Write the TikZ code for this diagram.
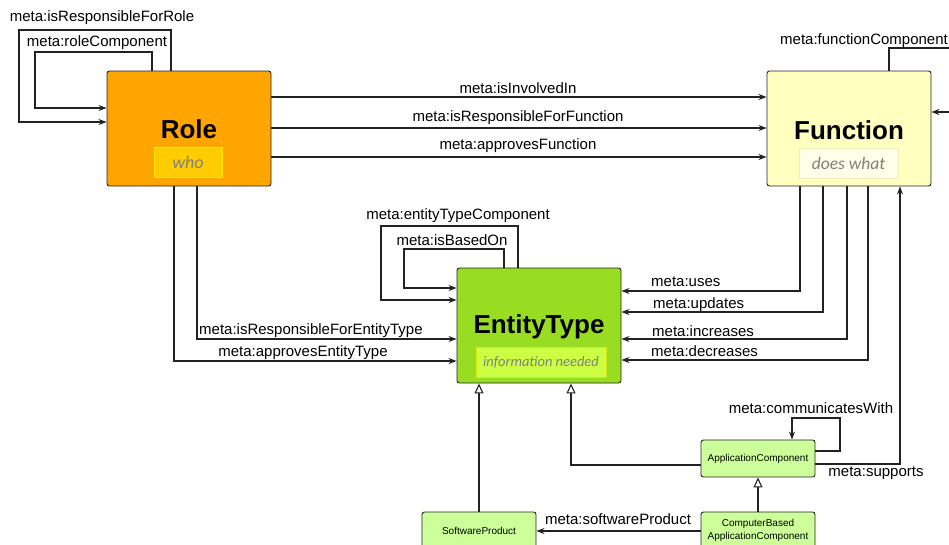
\documentclass[tikz,border=0pt]{standalone}
\usepackage{fontspec}
\setmainfont{Liberation Sans}
\newfontfamily\notefont{Carlito}
\usetikzlibrary{arrows.meta}

\definecolor{roleorange}{HTML}{FFA500}
\definecolor{rolegold}{HTML}{FFCC00}
\definecolor{funcyellow}{HTML}{FFFFC0}
\definecolor{funclight}{HTML}{FFFFE8}
\definecolor{etgreen}{HTML}{99DD22}
\definecolor{etlight}{HTML}{CCFF44}
\definecolor{appgreen}{HTML}{CCFF99}
\definecolor{linegray}{HTML}{222222}

\begin{document}
\begin{tikzpicture}[x=1pt, y=-1pt,
    bigbox/.style={draw=linegray, line width=0.9pt, rounded corners=2.5pt, minimum width=164pt, minimum height=115pt, inner sep=0pt},
    smallbox/.style={draw=linegray, line width=0.9pt, rounded corners=2.5pt, fill=appgreen, minimum width=114pt, minimum height=37pt, inner sep=0pt, align=center, font=\fontsize{10}{12.5}\selectfont},
    notebox/.style={draw, line width=0.8pt, minimum height=30pt, inner sep=0pt, text=gray},
    title/.style={font=\fontsize{26}{30}\selectfont\bfseries},
    lbl/.style={font=\fontsize{15}{18}\selectfont, inner sep=0pt},
    conn/.style={draw=linegray, line width=1.1pt, -{Stealth[length=8pt,width=6pt]}},
    isa/.style={draw=linegray, line width=1.1pt, -{Triangle[open,length=10pt,width=9pt,fill=white]}}]

    \clip (0,0) rectangle (949,544);

    % --- MAIN CLASSES ---
    \node[bigbox, fill=roleorange] (role) at (189,128.5) {};
    \node[title] (roletitle) at (189,129) {Role};
    \node[notebox, fill=rolegold, draw=yellow!90!orange, minimum width=68pt, font=\notefont\itshape\fontsize{18}{20}\selectfont] (who) at (188,162) {who};

    \node[bigbox, fill=funcyellow] (function) at (849,128.5) {};
    \node[title] (functitle) at (849,130) {Function};
    \node[notebox, fill=funclight, draw=yellow!25!white!85!gray, minimum width=99pt, font=\notefont\itshape\fontsize{17.5}{20}\selectfont] (doeswhat) at (848.5,163) {does what};

    \node[bigbox, fill=etgreen] (et) at (539,325.5) {};
    \node[title] (ettitle) at (539,327) {EntityType};
    \node[notebox, fill=etlight, draw=yellow!85!green, minimum width=130pt, font=\notefont\itshape\fontsize{14.5}{17}\selectfont] (infoneeded) at (541,362) {information needed};

    % --- APPLICATION CLASSES ---
    \node[smallbox] (app) at (758,458.5) {ApplicationComponent};
    \node[smallbox] (sp) at (479,530.5) {SoftwareProduct};
    \node[smallbox] (cbac) at (758,530.5) {ComputerBased\\ApplicationComponent};

    % --- SELF LOOPS ---
    \draw[conn] (role.north -| 171,0) |- (19,30) |- (role.west |- 0,122);
    \node[lbl] (lresprole) at (102,18) {meta:isResponsibleForRole};
    \draw[conn] (role.north -| 152,0) |- (35,52) |- (role.west |- 0,108);
    \node[lbl] (lrolecomp) at (97,43) {meta:roleComponent};

    \draw[conn] (et.north -| 518,0) |- (381,226) |- (et.west |- 0,300);
    \node[lbl] (letcomp) at (458,216) {meta:entityTypeComponent};
    \draw[conn] (et.north -| 504,0) |- (404,249) |- (et.west |- 0,288);
    \node[lbl] (lbased) at (452,240) {meta:isBasedOn};

    \draw[conn] (function.north -| 889,0) |- (965,48) |- (function.east |- 0,112);
    \node[lbl, anchor=west] (lfunccomp) at (780,41) {meta:functionComponent};

    \draw[conn] (app.east |- 0,451) -| (840,418) -| (app.north -| 792,0);
    \node[lbl] (lcomm) at (811,408) {meta:communicatesWith};

    % --- ROLE -> FUNCTION ---
    \draw[conn] (role.east |- 0,97) -- (function.west |- 0,97);
    \node[lbl] (linvolved) at (518,88) {meta:isInvolvedIn};
    \draw[conn] (role.east |- 0,128) -- (function.west |- 0,128);
    \node[lbl] (lrespfunc) at (518,118) {meta:isResponsibleForFunction};
    \draw[conn] (role.east |- 0,157) -- (function.west |- 0,157);
    \node[lbl] (lapprfunc) at (518,146) {meta:approvesFunction};

    % --- ROLE -> ENTITYTYPE ---
    \draw[conn] (role.south -| 197,0) |- (et.west |- 0,339);
    \node[lbl, anchor=west] (lrespet) at (199,331) {meta:isResponsibleForEntityType};
    \draw[conn] (role.south -| 174,0) |- (et.west |- 0,361);
    \node[lbl] (lappret) at (303,353) {meta:approvesEntityType};

    % --- FUNCTION -> ENTITYTYPE ---
    \draw[conn] (function.south -| 800,0) |- (et.east |- 0,291);
    \node[lbl, anchor=west] (luses) at (651,282) {meta:uses};
    \draw[conn] (function.south -| 823,0) |- (et.east |- 0,312);
    \node[lbl, anchor=west] (lupdates) at (653,305) {meta:updates};
    \draw[conn] (function.south -| 847,0) |- (et.east |- 0,339);
    \node[lbl, anchor=west] (lincr) at (652,331) {meta:increases};
    \draw[conn] (function.south -| 868,0) |- (et.east |- 0,360);
    \node[lbl, anchor=west] (ldecr) at (651,351) {meta:decreases};

    % --- APPLICATION LINKS ---
    \draw[conn] (app.east |- 0,464) -| (function.south -| 900,0);
    \node[lbl] (lsupports) at (876,473) {meta:supports};
    \draw[conn] (cbac.west |- 0,531) -- (sp.east |- 0,531);
    \node[lbl] (lswprod) at (618,519) {meta:softwareProduct};

    % generalisation
    \draw[isa] (app.west |- 0,465) -| (et.south -| 571,0);
    \draw[isa] (sp.north) -- (et.south -| sp.north);
    \draw[isa] (cbac.north) -- (app.south);
\end{tikzpicture}
\end{document}
